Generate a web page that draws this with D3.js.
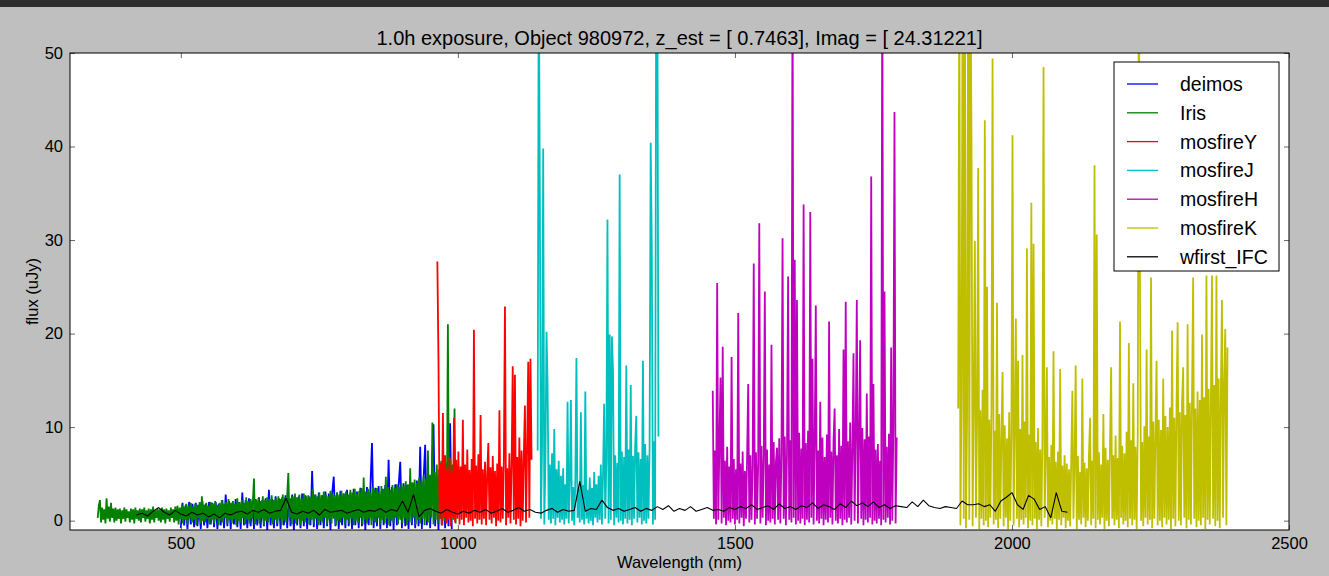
<!DOCTYPE html>
<html>
<head>
<meta charset="utf-8">
<script src="https://cdn.jsdelivr.net/npm/d3@7"></script>
<style>
  body { margin: 0; background: #bfbfbf; }
  text { font-family: "Liberation Sans", Arial, Helvetica, sans-serif; fill: #000; }
  .tick line { stroke: #666; }
</style>
</head>
<body>
<div id="chart"></div>
<script>
// Spectra: start wavelength (nm), sample step (nm), flux (uJy)
var deimosStart = 500, deimosStep = 3;
var deimosFlux = [
  -0.8, 1.9, -0.5, 1.7, -0.9, 2.0, -0.4, 1.8, -0.7, 1.9, -0.6, 1.7, -0.9, 2.1, -0.5, 1.8, -0.8, 2.0, -0.4, 1.9,
  -0.7, 2.0, -0.9, 1.8, -0.5, 2.2, -0.8, 2.8, -0.6, 2.1, -0.9, 1.9, -0.4, 2.3, -0.7, 2.0, -0.9, 3.0, -0.5, 2.2,
  -0.8, 2.4, -0.6, 2.1, -0.9, 2.3, -0.5, 2.5, -0.8, 2.2, -0.6, 2.4, -1.0, 3.3, -0.5, 2.3, -0.8, 2.6, -0.6, 2.4,
  -0.9, 2.5, -0.5, 2.7, -0.8, 2.4, -0.6, 2.8, -1.0, 2.5, -0.5, 2.6, -0.8, 2.9, -0.6, 2.7, -0.9, 2.6, -0.5, 5.3,
  -0.7, 2.8, -0.9, 3.0, -0.5, 2.7, -0.8, 3.1, -0.6, 2.9, -1.0, 2.8, 4.7, -0.6, 3.0, -0.9, 3.2, -0.5, 2.9, -0.8,
  3.3, -0.6, 3.0, -0.9, 3.4, -0.5, 3.1, -0.8, 3.5, -0.6, 3.2, -1.0, 3.6, -0.5, 3.3, 8.3, -0.8, 3.5, -0.6, 3.7,
  -0.9, 3.4, -0.5, 3.8, -0.8, 6.5, -0.6, 3.6, -1.0, 3.9, -0.5, 3.7, 6.3, -0.8, 4.0, -0.6, 3.8, -0.9, 4.1, -0.5,
  4.0, -0.8, 4.3, -0.6, 7.9, -0.9, 4.2, 8.1, -0.5, 4.5, -0.8, 4.4, 10.3, -0.6, 4.7, -1.0, 4.6, -0.5, 5.0, -0.8,
  5.2, -0.6, 10.4, -0.9
];

var irisStart = 350, irisStep = 2;
var irisFlux = [
  0.3, 1.6, 2.2, -0.2, 1.4, 0.1, 1.2, -0.3, 2.4, 0.2, 1.5, -0.1, 1.9, 0.3, 1.3, -0.2, 1.4, 0.0, 1.2, 0.2,
  1.3, -0.3, 1.1, 0.2, 1.4, -0.1, 1.2, 0.3, 1.0, -0.2, 1.3, 0.1, 1.2, -0.3, 1.4, 0.2, 1.1, 0.0, 1.3, -0.2,
  1.2, 0.3, 1.4, -0.1, 1.1, 0.2, 1.3, -0.3, 1.2, 0.1, 1.5, -0.2, 1.1, 0.3, 1.3, 0.0, 1.2, -0.2, 1.4, 0.1,
  1.2, -0.3, 1.3, 0.2, 1.1, -0.1, 1.4, 0.3, 1.2, -0.2, 1.5, 0.0, 1.6, -0.4, 1.4, 0.2, 1.7, -0.3, 1.5, 0.1,
  1.8, -0.4, 1.6, 0.2, 1.9, -0.2, 1.5, 0.1, 1.8, -0.5, 1.7, 0.3, 2.0, -0.3, 2.6, 0.0, 1.7, -0.2, 1.9, 0.2,
  1.6, -0.4, 2.0, 0.1, 1.8, -0.3, 2.1, 0.2, 1.7, -0.5, 1.9, 0.0, 2.2, -0.2, 1.8, 0.3, 2.0, -0.4, 2.3, 0.1,
  1.9, -0.3, 2.1, 0.2, 1.8, -0.5, 2.4, 0.0, 2.0, -0.2, 2.2, 0.3, 1.9, -0.4, 2.5, 0.1, 2.1, -0.3, 2.3, 0.2,
  2.0, 4.5, -0.4, 2.2, 0.1, 2.4, -0.3, 2.1, 0.2, 2.6, -0.5, 2.2, 0.0, 2.5, -0.2, 2.3, 0.3, 2.7, -0.4, 2.2,
  0.1, 2.4, -0.3, 2.6, 0.2, 2.3, -0.5, 2.8, 0.0, 2.5, -0.2, 2.7, 5.1, 0.3, 2.4, -0.4, 2.6, 0.1, 2.9, -0.3,
  2.5, 0.2, 2.8, -0.5, 2.4, 0.0, 2.9, -0.2, 2.6, 0.3, 2.7, -0.4, 2.5, 0.1, 3.4, -0.3, 2.8, 0.2, 2.6, -0.5,
  3.0, 0.0, 2.7, -0.2, 3.1, 0.3, 2.8, -0.4, 2.6, 0.1, 3.2, -0.3, 2.9, 0.2, 2.7, -0.5, 3.0, 0.0, 2.8, -0.2,
  3.2, 0.3, 2.9, -0.4, 3.1, 0.1, 2.8, -0.3, 3.3, 0.2, 3.0, -0.5, 3.4, 0.0, 2.9, -0.2, 3.2, 0.3, 3.5, -0.4,
  4.6, 0.1, 3.1, -0.3, 3.4, 0.2, 3.0, -0.5, 3.6, 0.0, 3.3, -0.2, 3.5, 0.3, 3.1, -0.4, 3.7, 0.1, 3.4, -0.3,
  4.7, 0.2, 3.6, -0.5, 3.3, 0.0, 3.8, -0.2, 3.5, 0.3, 3.9, -0.4, 3.6, 0.1, 4.0, -0.3, 3.7, 0.2, 4.2, -0.5,
  3.9, 0.0, 5.6, -0.2, 4.1, 0.3, 4.4, -0.4, 4.0, 0.1, 4.6, -0.3, 4.3, 0.2, 4.8, -0.5, 4.5, 0.0, 7.5, -0.2,
  4.9, 0.3, 10.5, -0.4, 5.2, 0.1, 6.0, -0.3, 5.5, 0.2, 6.4, -0.5, 5.8, 0.0, 6.2, -0.2, 21.0, 0.3, 6.6, -0.4,
  6.0, 0.1, 12.0, -0.3, 5.5
];

var mosfireYStart = 963, mosfireYStep = 2;
var mosfireYFlux = [
  27.7, 17.3, 0.2, 6.2, -0.5, 11.5, 0.3, 7.0, -0.3, 5.6, 0.1, 6.8, -0.6, 5.2, 0.4, 11.0, -0.2, 6.5, 0.2, 7.4,
  -0.4, 5.8, 0.1, 10.8, -0.5, 6.0, 0.3, 7.6, -0.2, 5.4, 0.0, 6.6, -0.6, 20.4, 0.2, 5.9, -0.3, 7.1, 0.1, 11.3,
  -0.4, 5.5, 0.2, 6.3, -0.5, 5.0, 8.3, 0.1, 5.7, -0.3, 6.9, 0.3, 5.3, -0.6, 6.1, 0.0, 11.8, -0.2, 5.8, 0.2,
  6.4, 22.9, -0.5, 5.6, 0.3, 7.2, -0.3, 6.0, 16.5, 0.1, 15.6, -0.4, 6.8, 0.2, 8.9, -0.6, 7.5, 0.0, 6.9, 12.3,
  -0.2, 7.8, 17.0, 0.3, 17.3, 6.5
];

var mosfireJStart = 1144, mosfireJStep = 2;
var mosfireJFlux = [
  7.5, 60, 34.3, 0.2, 8.0, 39.8, -0.4, 6.5, 20.2, 14.3, 0.1, 6.0, -0.3, 7.2, 0.2, 9.8, -0.5, 5.5, 0.3, 6.4,
  -0.2, 4.8, 0.1, 5.6, -0.4, 3.9, 0.2, 12.7, -0.3, 4.2, 12.9, 0.0, 3.6, -0.5, 4.4, 17.4, 0.3, 3.4, -0.2, 11.6,
  0.1, 3.8, -0.4, 13.8, 0.2, 3.3, -0.3, 4.6, 0.0, 3.5, -0.5, 5.2, 0.3, 3.9, -0.2, 4.8, 0.1, 6.0, -0.4, 5.0,
  12.5, 0.2, 6.5, 32.2, -0.3, 19.9, 0.1, 19.7, 16.0, -0.5, 7.0, 0.3, 6.2, -0.2, 37.0, 0.0, 7.4, -0.4, 6.8, 0.2,
  16.6, -0.3, 7.6, 0.1, 14.5, -0.5, 6.9, 0.2, 8.0, 11.2, -0.2, 7.3, 0.3, 6.6, -0.4, 17.1, 0.0, 8.2, -0.3, 7.0,
  0.2, 7.8, 40.4, 29.5, -0.4, 8.5, 0.1, 60, 60, 9.0
];

var mosfireHStart = 1460, mosfireHStep = 2;
var mosfireHFlux = [
  13.9, 0.2, 7.5, -0.4, 25.4, 0.1, 8.2, 15.3, -0.3, 18.6, 0.3, 6.4, -0.5, 7.9, 0.0, 5.8, -0.2, 17.5, 0.2, 6.6,
  -0.4, 5.5, 0.1, 22.2, -0.3, 6.1, 0.3, 7.4, -0.6, 5.3, 0.2, 6.8, 14.6, -0.2, 7.0, 0.1, 5.9, 27.5, -0.4, 7.3,
  0.2, 6.2, 31.8, -0.3, 8.0, 0.3, 6.5, 24.5, -0.5, 7.6, 0.0, 6.0, -0.2, 18.8, 0.2, 8.4, -0.4, 6.3, 7.8, 0.1,
  8.8, -0.3, 7.1, 30.2, 0.2, 9.0, -0.5, 7.4, 26.1, 0.1, 8.6, -0.2, 60, 0.3, 27.9, -0.4, 23.6, 0.0, 9.4, -0.3,
  7.7, 0.2, 33.8, -0.5, 8.3, 0.1, 9.6, -0.2, 33.0, 0.3, 17.3, -0.4, 8.1, 23.0, 0.0, 7.5, -0.3, 12.7, 0.2, 8.9,
  -0.5, 6.8, 0.1, 9.2, -0.2, 21.3, 0.3, 7.4, -0.4, 8.6, 12.0, 0.0, 7.0, -0.3, 9.8, 0.2, 8.0, -0.5, 18.3, 0.1,
  23.4, -0.2, 8.5, 0.3, 10.5, -0.4, 7.8, 17.9, 0.0, 9.1, 23.6, -0.3, 8.4, 19.3, 0.2, 9.9, -0.5, 8.7, 0.1, 13.6,
  -0.2, 9.0, 0.3, 36.8, -0.4, 14.6, 0.0, 7.6, -0.3, 8.2, 0.2, 6.4, -0.5, 60, 0.1, 24.5, -0.2, 7.9, 0.3, 9.3,
  -0.4, 18.5, 0.0, 10.2, 43.7, -0.3, 8.9
];

var mosfireKStart = 1903, mosfireKStep = 2;
var mosfireKFlux = [
  12.0, 60, -0.5, 13.5, 60, 0.2, 60, -0.8, 11.0, 60, 0.1, 60, 40.7, -0.6, 12.5, 29.9, 0.3, 10.5, 37.7, -0.9,
  11.8, 0.2, 14.0, -0.5, 42.8, 0.0, 25.0, -0.7, 10.8, 0.3, 12.2, 49.4, -0.4, 9.6, 0.1, 23.3, -0.8, 11.4, 0.2, 9.0,
  15.9, -0.6, 10.2, 0.3, 8.8, -0.9, 11.6, 0.0, 9.4, 41.2, -0.5, 10.0, 21.6, 0.2, 17.1, -0.7, 9.8, 0.1, 17.7, -0.4,
  10.6, 0.3, 29.1, -0.8, 9.2, 0.0, 34.0, -0.5, 29.6, 0.2, 8.4, -0.9, 9.9, 0.1, 7.6, -0.6, 8.8, 48.5, 0.3, 7.2,
  16.4, -0.7, 6.8, 0.0, 8.1, -0.4, 18.1, 0.2, 6.3, -0.9, 7.4, 0.1, 16.2, -0.5, 5.9, 0.3, 7.0, -0.8, 6.1, 0.0,
  5.5, -0.6, 6.6, 13.9, 0.2, 5.8, 16.6, -0.9, 6.9, 0.1, 5.2, -0.4, 15.2, 0.3, 6.2, -0.7, 5.6, 0.0, 7.1, 11.0,
  -0.5, 6.4, 0.2, 38.0, -0.8, 30.6, 0.1, 7.3, -0.4, 6.0, 0.3, 11.4, -0.9, 7.8, 0.0, 6.5, -0.6, 8.2, 16.4, 0.2,
  7.0, -0.5, 9.1, 0.1, 6.7, -0.8, 21.3, 0.3, 8.0, -0.4, 7.2, 0.0, 9.5, -0.7, 19.0, 0.2, 8.6, -0.5, 14.7, 0.1,
  7.9, -0.9, 9.3, 60, 26.2, 0.0, 8.4, -0.6, 10.1, 0.3, 18.3, -0.4, 9.0, 0.1, 26.0, -0.8, 10.6, 0.2, 9.4, 17.1,
  -0.5, 10.8, 0.0, 9.7, -0.7, 15.2, 0.3, 11.2, -0.4, 10.0, 0.1, 12.1, -0.9, 20.3, 0.2, 11.0, -0.6, 12.4, 21.2, 0.0,
  11.6, -0.5, 12.8, 16.4, 0.3, 11.3, -0.8, 21.0, 0.1, 12.6, -0.4, 13.4, 26.0, 0.2, 12.0, -0.7, 13.8, 0.0, 12.9, -0.5,
  19.9, 0.3, 13.2, -0.9, 26.2, 0.1, 14.1, -0.4, 12.7, 26.2, 0.2, 14.5, -0.6, 26.2, 0.0, 15.2, -0.8, 13.6, 23.6, 0.3,
  14.8, 20.5, -0.5, 18.5
];

var wfirstStart = 420, wfirstStep = 10;
var wfirstFlux = [
  0.6, 0.8, 0.5, 1.0, 1.4, 0.9, 0.6, 1.1, 0.7,
  0.5, 0.9, 0.6, 0.8, 0.4, 0.7, 0.3, 0.8, 0.6, 0.9,
  1.0, 0.7, 1.1, 0.9, 1.2, 0.8, 1.0, 1.1, 2.4, 0.9,
  0.7, 1.0, 0.8, 1.1, 0.6, 1.2, 0.9, 1.0, 1.1, 0.8,
  1.0, 1.2, 0.9, 1.1, 1.0, 1.3, 0.9, 1.2, 1.0, 2.1,
  0.9, 2.8, 0.4, 1.1, 1.3, 1.0, 0.8, 1.2, 0.9, 0.7,
  1.0, 0.8, 1.1, 0.9, 1.2, 0.8, 1.0, 1.3, 0.9, 1.1,
  1.4, 1.0, 1.2, 0.9, 0.8, 1.1, 1.3, 0.9, 1.2, 1.0,
  1.1, 4.2, 1.0, 1.3, 1.2, 2.2, 1.4, 1.1, 1.3, 1.0,
  1.2, 1.4, 1.0, 1.3, 1.1, 1.5, 1.2, 1.6, 1.0, 1.3,
  1.1, 1.5, 1.0, 1.2, 1.4, 1.1, 1.2, 1.0, 1.4, 1.2,
  1.5, 1.3, 1.7, 1.2, 1.4, 1.6, 1.2, 1.8, 1.3, 1.5,
  1.2, 1.6, 1.4, 1.9, 1.3, 1.7, 1.5, 1.2, 1.8, 1.4,
  2.1, 1.6, 1.9, 1.5, 2.0, 1.4, 1.7, 1.3, 1.6, 1.5,
  1.4, 2.0, 1.5, 2.2, 1.6, 1.4, 1.3, 1.5, 1.4, 1.3,
  2.1, 1.7, 1.7, 1.8, 1.5, 1.7, 1.0, 2.1, 2.5, 3.0,
  1.7, 1.2, 2.7, 2.3, 1.2, 1.5, 0.3, 3.0, 1.0, 0.9
];

var seriesNames = ["deimos", "Iris", "mosfireY", "mosfireJ", "mosfireH", "mosfireK", "wfirst_IFC"];
var seriesColors = ["#0000ff", "#008000", "#ff0000", "#00bfbf", "#bf00bf", "#bfbf00", "#000000"];
var xTicks = [500, 1000, 1500, 2000, 2500];
var yTicks = [0, 10, 20, 30, 40, 50];

// turn start/step/flux into points
function toPoints(start, step, flux) {
  return flux.map(function(f, i) { return { wl: start + i * step, flux: f }; });
}

var series = [
  { data: toPoints(deimosStart, deimosStep, deimosFlux), width: 1.8 },
  { data: toPoints(irisStart, irisStep, irisFlux), width: 1.8 },
  { data: toPoints(mosfireYStart, mosfireYStep, mosfireYFlux), width: 1.8 },
  { data: toPoints(mosfireJStart, mosfireJStep, mosfireJFlux), width: 1.8 },
  { data: toPoints(mosfireHStart, mosfireHStep, mosfireHFlux), width: 1.8 },
  { data: toPoints(mosfireKStart, mosfireKStep, mosfireKFlux), width: 1.8 },
  { data: toPoints(wfirstStart, wfirstStep, wfirstFlux), width: 1.1 }
];

// chart area
var svgWidth = 1329;
var svgHeight = 576;
var margin = { top: 53, right: 40, bottom: 46, left: 70 };
var width = svgWidth - margin.left - margin.right;
var height = svgHeight - margin.top - margin.bottom;

var svg = d3.select("#chart")
  .append("svg")
  .attr("width", svgWidth)
  .attr("height", svgHeight);

svg.append("rect").attr("width", svgWidth).attr("height", svgHeight).attr("fill", "#bfbfbf");
svg.append("rect").attr("width", svgWidth).attr("height", 7).attr("fill", "#2e2e2e");

var chartGroup = svg.append("g")
  .attr("transform", `translate(${margin.left}, ${margin.top})`);

chartGroup.append("rect").attr("width", width).attr("height", height).attr("fill", "#fff");

svg.append("defs").append("clipPath").attr("id", "plotClip")
  .append("rect").attr("width", width).attr("height", height);

var xLinearScale = d3.scaleLinear().domain([300, 2500]).range([0, width]);
var yLinearScale = d3.scaleLinear().domain([-1, 50]).range([height, 0]);

var line = d3.line()
  .x(d => xLinearScale(d.wl))
  .y(d => yLinearScale(d.flux));

var lines = chartGroup.append("g").attr("clip-path", "url(#plotClip)");
series.forEach(function(s, i) {
  lines.append("path")
    .datum(s.data)
    .attr("fill", "none")
    .attr("stroke", seriesColors[i])
    .attr("stroke-width", s.width)
    .attr("stroke-linejoin", "bevel")
    .attr("d", line);
});

// axes, ticks pointing inward on all four sides
var bottomAxis = d3.axisBottom(xLinearScale).tickValues(xTicks).tickFormat(d3.format("d")).tickSize(-5).tickPadding(7);
var leftAxis = d3.axisLeft(yLinearScale).tickValues(yTicks).tickFormat(d3.format("d")).tickSize(-5).tickPadding(7);
var topAxis = d3.axisTop(xLinearScale).tickValues(xTicks).tickSize(-5).tickFormat("");
var rightAxis = d3.axisRight(yLinearScale).tickValues(yTicks).tickSize(-5).tickFormat("");

chartGroup.append("g").attr("transform", `translate(0, ${height})`).call(bottomAxis);
chartGroup.append("g").call(leftAxis);
chartGroup.append("g").call(topAxis);
chartGroup.append("g").attr("transform", `translate(${width}, 0)`).call(rightAxis);
chartGroup.selectAll(".domain").remove();
chartGroup.selectAll(".tick text")
  .style("font-family", '"Liberation Sans", Arial, sans-serif')
  .style("font-size", "16.5px")
  .attr("fill", "#000");

chartGroup.append("rect")
  .attr("width", width).attr("height", height)
  .attr("fill", "none").attr("stroke", "#000").attr("stroke-width", 1);

// title and axis labels
svg.append("text")
  .attr("x", margin.left + width / 2).attr("y", 45)
  .attr("text-anchor", "middle")
  .style("font-size", "20px")
  .text("1.0h exposure, Object 980972, z_est = [ 0.7463], Imag = [ 24.31221]");

svg.append("text")
  .attr("x", margin.left + width / 2).attr("y", 568)
  .attr("text-anchor", "middle")
  .style("font-size", "16.5px")
  .text("Wavelength (nm)");

svg.append("text")
  .attr("transform", `translate(38, ${margin.top + height / 2}) rotate(-90)`)
  .attr("text-anchor", "middle")
  .style("font-size", "16.5px")
  .text("flux (uJy)");

// legend
var legend = svg.append("g").attr("transform", "translate(1114, 62)");
legend.append("rect")
  .attr("width", 165).attr("height", 209)
  .attr("fill", "#fff").attr("stroke", "#000").attr("stroke-width", 1);

seriesNames.forEach(function(name, i) {
  var yPos = 22 + i * 28.8;
  legend.append("line")
    .attr("x1", 13).attr("x2", 44)
    .attr("y1", yPos).attr("y2", yPos)
    .attr("stroke", seriesColors[i]).attr("stroke-width", 1.3);
  legend.append("text")
    .attr("x", 66).attr("y", yPos + 7)
    .style("font-size", "19.5px")
    .text(name);
});
</script>
</body>
</html>
